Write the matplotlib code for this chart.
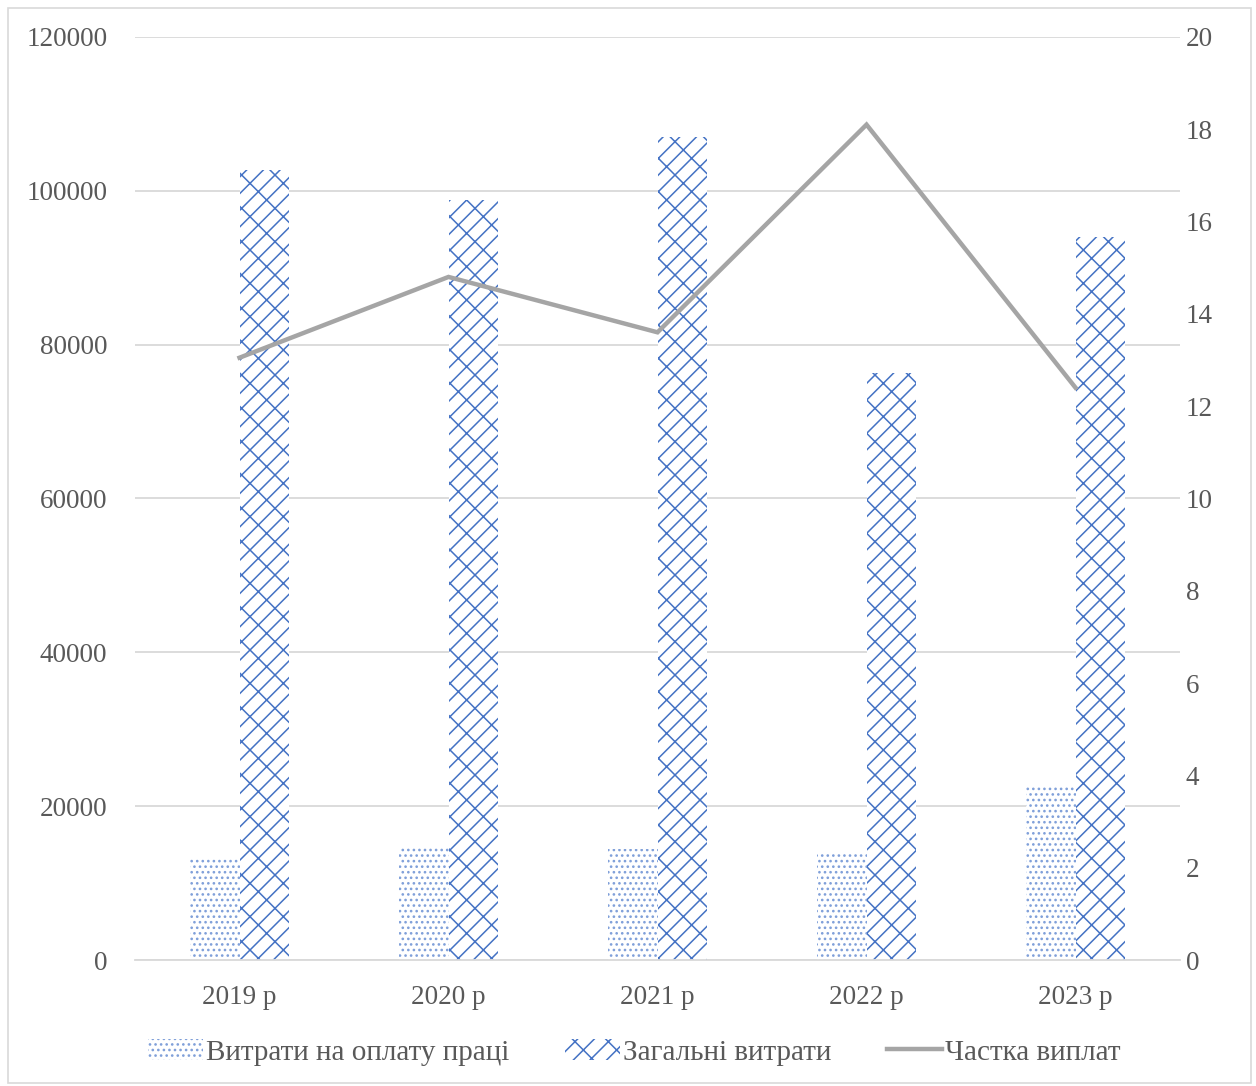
import matplotlib
matplotlib.use("Agg")
import matplotlib.pyplot as plt
import numpy as np
from matplotlib.patches import Rectangle

years = ["2019 р", "2020 р", "2021 р", "2022 р", "2023 р"]
labour_costs = [13400, 14550, 14450, 13750, 22600]
total_costs = [102700, 98800, 107000, 76300, 94000]
share = [13.05, 14.8, 13.6, 18.1, 12.4]

plt.rcParams['font.family'] = ['Liberation Serif', 'DejaVu Serif']
plt.rcParams['hatch.linewidth'] = 1.1
text_color = '#595959'
blue = '#4472C4'
light_blue = '#7F9FD9'
grid_c = '#D9D9D9'
fs = 19.5

fig = plt.figure(figsize=(12.56, 10.86), dpi=100)
ax = fig.add_axes([0.1075, 0.116, 0.832, 0.85])
x = np.arange(len(years))
w = 0.235
ax.bar(x - w/2, labour_costs, w, facecolor='white', edgecolor=light_blue, hatch='...', linewidth=0,
       label='Витрати на оплату праці', zorder=2)
ax.bar(x + w/2, total_costs, w, facecolor='white', edgecolor=blue, hatch='x/', linewidth=0,
       label='Загальні витрати', zorder=2)
ax.set_ylim(0, 120000)
ax.set_xlim(-0.5, 4.5)
ax.set_yticks(np.arange(0, 120001, 20000))
ax.yaxis.grid(True, color=grid_c, linewidth=1.3, zorder=0)
ax.set_axisbelow(True)
for s in ['top', 'right', 'left']:
    ax.spines[s].set_visible(False)
ax.spines['bottom'].set_color(grid_c)
ax.spines['bottom'].set_linewidth(1.3)
ax.set_xticks(x)
ax.set_xticklabels(years)
ax.tick_params(axis='both', length=0, labelsize=fs, labelcolor=text_color)
ax.tick_params(axis='y', pad=20)
ax.tick_params(axis='x', pad=18)

ax2 = ax.twinx()
ax2.plot(x, share, color='#A5A5A5', linewidth=3.2, label='Частка виплат', zorder=3,
         solid_joinstyle='miter')
ax2.set_ylim(0, 20)
ax2.set_yticks(np.arange(0, 21, 2))
for s in ['top', 'right', 'left', 'bottom']:
    ax2.spines[s].set_visible(False)
ax2.tick_params(axis='y', length=0, labelsize=fs, labelcolor=text_color, pad=4)

h1, l1 = ax.get_legend_handles_labels()
h2, l2 = ax2.get_legend_handles_labels()
fig.legend(h1 + h2, l1 + l2, loc='center', bbox_to_anchor=(0.505, 0.031), ncol=3,
           frameon=False, fontsize=21, labelcolor=text_color, handlelength=1.9,
           handletextpad=0.1, columnspacing=1.9)

fig.patches.append(Rectangle((0.006, 0.003), 0.99, 0.99, transform=fig.transFigure,
                             fill=False, edgecolor=grid_c, linewidth=1.2))
fig.savefig('out.png', dpi=100)
